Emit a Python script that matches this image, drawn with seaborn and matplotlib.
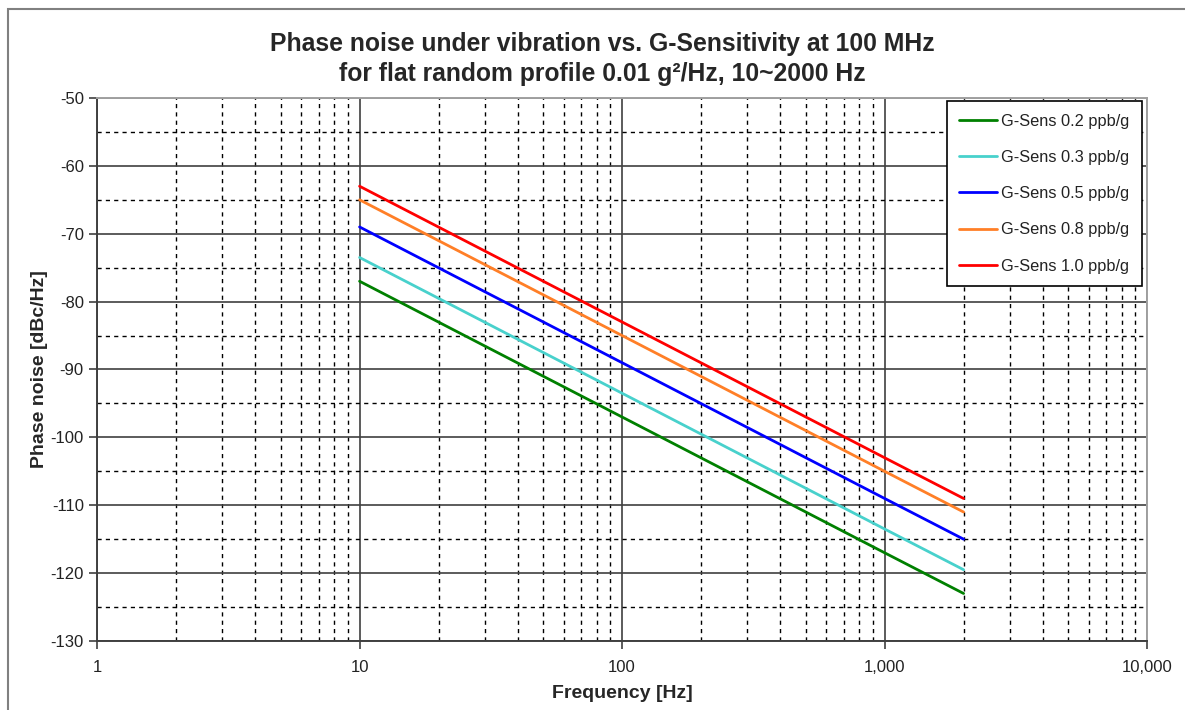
import pandas as pd
import numpy as np
import seaborn as sns
import matplotlib
matplotlib.use('Agg')
import matplotlib.pyplot as plt
from matplotlib.ticker import LogLocator, MultipleLocator, FuncFormatter, NullFormatter
from matplotlib.patches import Rectangle

# Data (dBc/Hz at each vibration frequency)
freq = [10, 100, 1000, 2000]
sens_labels = ['G-Sens 0.2 ppb/g', 'G-Sens 0.3 ppb/g', 'G-Sens 0.5 ppb/g',
               'G-Sens 0.8 ppb/g', 'G-Sens 1.0 ppb/g']
pn_02 = [-77.0, -97.0, -117.0, -123.0]
pn_03 = [-73.5, -93.5, -113.5, -119.5]
pn_05 = [-69.0, -89.0, -109.0, -115.0]
pn_08 = [-65.0, -85.0, -105.0, -111.0]
pn_10 = [-63.0, -83.0, -103.0, -109.0]
line_colors = ['#008000', '#48d1cc', '#0000ff', '#ff7f27', '#ff0000']

# long-form table for seaborn
rows = []
for lab, vals in zip(sens_labels, [pn_02, pn_03, pn_05, pn_08, pn_10]):
    for f, v in zip(freq, vals):
        rows.append({'Frequency': f, 'Phase noise': v, 'Series': lab})
data = pd.DataFrame(rows)

sns.set_style('white')
plt.rcParams['font.family'] = ['Liberation Sans', 'DejaVu Sans']
plt.rcParams['axes.unicode_minus'] = False

fig = plt.figure(figsize=(11.85, 7.1), dpi=100)
ax = fig.add_axes([0.0819, 0.0972, 0.8861, 0.7648])

# outer chart frame
fig.add_artist(Rectangle((0.00675, -0.2), 1.2, 1.187, transform=fig.transFigure,
                         fill=False, edgecolor='#808080', lw=1.5))

sns.lineplot(data=data, x='Frequency', y='Phase noise', hue='Series',
             palette=dict(zip(sens_labels, line_colors)), linewidth=2,
             ax=ax, zorder=3)

ax.set_xscale('log')
ax.set_xlim(1, 10000)
ax.set_ylim(-130, -50)
ax.xaxis.set_major_locator(LogLocator(base=10, numticks=10))
ax.xaxis.set_minor_locator(LogLocator(base=10, subs=np.arange(2, 10), numticks=20))
ax.xaxis.set_major_formatter(FuncFormatter(lambda v, p: f'{v:,.0f}'))
ax.xaxis.set_minor_formatter(NullFormatter())
ax.yaxis.set_major_locator(MultipleLocator(10))
ax.yaxis.set_minor_locator(MultipleLocator(5))

ax.grid(which='major', color='#404040', lw=1.2, ls='-', zorder=1)
ax.grid(which='minor', color='black', lw=1, ls=(0, (3, 3)), zorder=1)

ax.tick_params(which='major', direction='out', length=6, width=1.2, color='#404040',
               left=True, bottom=True, labelsize=12, labelcolor='#222222')
ax.tick_params(axis='x', pad=8)
ax.tick_params(which='minor', length=0)

for s in ['left', 'bottom']:
    ax.spines[s].set_color('#404040')
    ax.spines[s].set_linewidth(1.4)
for s in ['top', 'right']:
    ax.spines[s].set_color('#a0a0a0')
    ax.spines[s].set_linewidth(1.4)

ax.set_xlabel('Frequency [Hz]', fontsize=14, fontweight='bold', labelpad=7)
ax.set_ylabel('Phase noise [dBc/Hz]', fontsize=14, fontweight='bold', labelpad=2)

fig.text(0.508, 0.955, 'Phase noise under vibration vs. G-Sensitivity at 100 MHz\n'
         'for flat random profile 0.01 g\u00b2/Hz, 10~2000 Hz',
         ha='center', va='top', fontsize=17.8, fontweight='bold', linespacing=1.3)

leg = ax.legend(loc='upper right', bbox_to_anchor=(1.003, 1.009), fontsize=11.8,
                frameon=True, fancybox=False, edgecolor='black', framealpha=1,
                labelspacing=1.3, handlelength=2.3, handletextpad=0.3,
                borderpad=0.75, title=None)
leg.get_frame().set_linewidth(1.2)
leg.set_zorder(5)
for t in leg.get_texts():
    t.set_color('#222222')

plt.savefig('out.png', dpi=100)
